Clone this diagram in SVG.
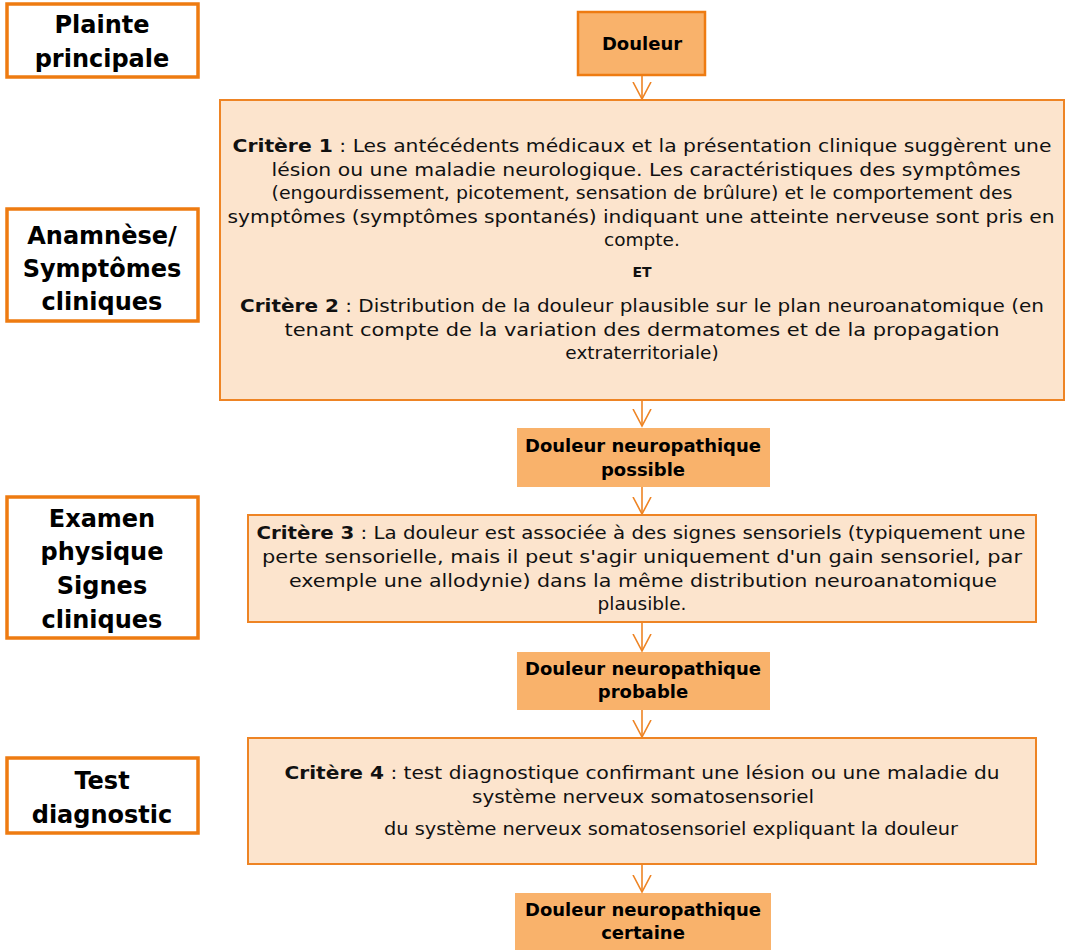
<svg xmlns="http://www.w3.org/2000/svg" width="1068" height="950" viewBox="0 0 1068 950">
<style>
.lbl{fill:#fff;stroke:#EE7B11;stroke-width:3.5}
.crit{fill:#FCE4CD;stroke:#EE8424;stroke-width:2}
.res{fill:#F9B26B}
.lt{font-family:"DejaVu Sans",sans-serif;font-weight:bold;font-size:24px;fill:#000;text-anchor:middle}
.bt{font-family:"DejaVu Sans",sans-serif;font-size:18.5px;fill:#111;text-anchor:middle}
.rt{font-family:"DejaVu Sans",sans-serif;font-weight:bold;font-size:18px;fill:#000;text-anchor:middle}
.b{font-weight:bold}
.conn{stroke:#EE8424;stroke-width:1.6;fill:none}
</style>
<defs>
<marker id="ah" viewBox="0 0 20 20" refX="17" refY="10" markerWidth="20" markerHeight="20" markerUnits="userSpaceOnUse" orient="auto">
<path d="M0,1 L17,10 L0,19" fill="none" stroke="#EE8424" stroke-width="1.6"/>
</marker>
</defs>
<rect width="1068" height="950" fill="#fff"/>

<g id="lbl-plainte">
<rect class="lbl" x="7" y="4" width="191" height="73"/>
<text class="lt" x="102" y="33">Plainte</text>
<text class="lt" x="102" y="67">principale</text>
</g>
<g id="lbl-anamnese">
<rect class="lbl" x="7" y="209" width="191" height="112"/>
<text class="lt" x="102" y="244">Anamnèse/</text>
<text class="lt" x="102" y="277">Symptômes</text>
<text class="lt" x="102" y="310">cliniques</text>
</g>
<g id="lbl-examen">
<rect class="lbl" x="7" y="497" width="191" height="141"/>
<text class="lt" x="102" y="527">Examen</text>
<text class="lt" x="102" y="560">physique</text>
<text class="lt" x="102" y="594">Signes</text>
<text class="lt" x="102" y="628">cliniques</text>
</g>
<g id="lbl-test">
<rect class="lbl" x="7" y="758" width="191" height="75"/>
<text class="lt" x="102" y="789">Test</text>
<text class="lt" x="102" y="823">diagnostic</text>
</g>

<g id="douleur">
<rect x="578" y="12" width="127" height="63" fill="#F9B26B" stroke="#EE7B11" stroke-width="2.5"/>
<text class="rt" x="642" y="50">Douleur</text>
</g>

<g id="critere12">
<rect class="crit" x="220" y="100" width="844" height="300"/>
<text class="bt" x="642" y="152" textLength="819" lengthAdjust="spacingAndGlyphs"><tspan class="b">Critère 1</tspan> : Les antécédents médicaux et la présentation clinique suggèrent une</text>
<text class="bt" x="646" y="176" textLength="749" lengthAdjust="spacingAndGlyphs">lésion ou une maladie neurologique.  Les caractéristiques des symptômes</text>
<text class="bt" x="642" y="199" textLength="741" lengthAdjust="spacingAndGlyphs">(engourdissement, picotement, sensation de brûlure) et le comportement des</text>
<text class="bt" x="641" y="223" textLength="827" lengthAdjust="spacingAndGlyphs">symptômes (symptômes spontanés) indiquant une atteinte nerveuse sont pris en</text>
<text class="bt" x="642" y="246">compte.</text>
<text class="bt b" x="642" y="277" style="font-size:14px">ET</text>
<text class="bt" x="642" y="312" textLength="804" lengthAdjust="spacingAndGlyphs"><tspan class="b">Critère 2</tspan> : Distribution de la douleur plausible sur le plan neuroanatomique (en</text>
<text class="bt" x="642" y="336" textLength="715" lengthAdjust="spacingAndGlyphs">tenant compte de la variation des dermatomes et de la propagation</text>
<text class="bt" x="642" y="359">extraterritoriale)</text>
</g>

<g id="possible">
<rect class="res" x="517" y="428" width="253" height="59"/>
<text class="rt" x="643" y="452">Douleur neuropathique</text>
<text class="rt" x="643" y="476">possible</text>
</g>

<g id="critere3">
<rect class="crit" x="248" y="515" width="788" height="107"/>
<text class="bt" x="641" y="539" textLength="769" lengthAdjust="spacingAndGlyphs"><tspan class="b">Critère 3</tspan> : La douleur est associée à des signes sensoriels (typiquement une</text>
<text class="bt" x="642" y="563" textLength="760" lengthAdjust="spacingAndGlyphs">perte sensorielle, mais il peut s'agir uniquement d'un gain sensoriel, par</text>
<text class="bt" x="643" y="587" textLength="708" lengthAdjust="spacingAndGlyphs">exemple une allodynie) dans la même distribution neuroanatomique</text>
<text class="bt" x="642" y="610">plausible.</text>
</g>

<g id="probable">
<rect class="res" x="517" y="652" width="253" height="58"/>
<text class="rt" x="643" y="675">Douleur neuropathique</text>
<text class="rt" x="643" y="698">probable</text>
</g>

<g id="critere4">
<rect class="crit" x="248" y="738" width="788" height="126"/>
<text class="bt" x="642" y="779" textLength="715" lengthAdjust="spacingAndGlyphs"><tspan class="b">Critère 4</tspan> : test diagnostique confirmant une lésion ou une maladie du</text>
<text class="bt" x="643" y="803" textLength="342" lengthAdjust="spacingAndGlyphs">système nerveux somatosensoriel</text>
<text class="bt" x="671" y="835" textLength="574" lengthAdjust="spacingAndGlyphs">du système nerveux somatosensoriel expliquant la douleur</text>
</g>

<g id="certaine">
<rect class="res" x="515" y="893" width="256" height="57"/>
<text class="rt" x="643" y="916">Douleur neuropathique</text>
<text class="rt" x="643" y="939">certaine</text>
</g>

<g id="connectors">
<line class="conn" x1="642" y1="76" x2="642" y2="99" marker-end="url(#ah)"/>
<line class="conn" x1="642" y1="401" x2="642" y2="426" marker-end="url(#ah)"/>
<line class="conn" x1="642" y1="487" x2="642" y2="514" marker-end="url(#ah)"/>
<line class="conn" x1="642" y1="623" x2="642" y2="651" marker-end="url(#ah)"/>
<line class="conn" x1="642" y1="710" x2="642" y2="737" marker-end="url(#ah)"/>
<line class="conn" x1="642" y1="865" x2="642" y2="892" marker-end="url(#ah)"/>
</g>
</svg>
